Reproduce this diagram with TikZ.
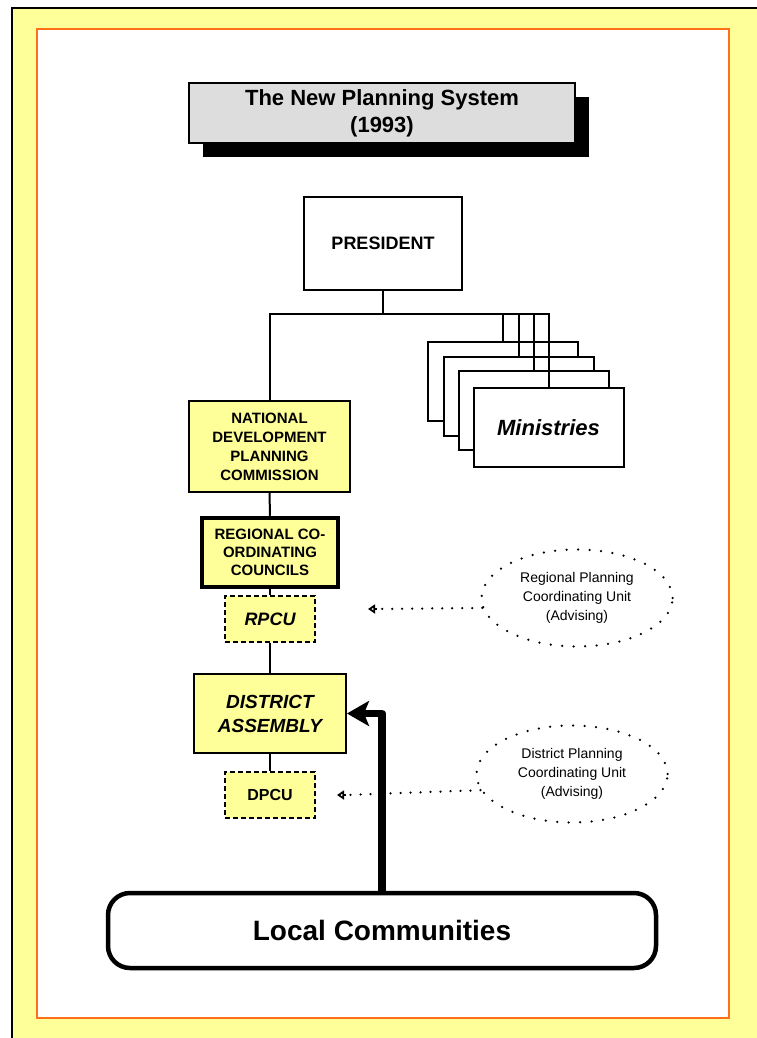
\documentclass[tikz,border=0pt]{standalone}
\usepackage{fontspec}
\setmainfont{Liberation Sans}
\usetikzlibrary{arrows.meta,shapes.geometric,shadows}
\definecolor{pageyellow}{RGB}{255,255,153}
\definecolor{boxyellow}{RGB}{255,255,153}
\definecolor{frameorange}{RGB}{255,112,24}
\definecolor{titlegray}{RGB}{221,221,221}
\begin{document}
\begin{tikzpicture}[x=1pt,y=-1pt,
  box/.style={rectangle,draw=black,line width=2pt,align=center,inner sep=0pt},
  ybox/.style={box,fill=boxyellow},
  wbox/.style={box,fill=white},
  dbox/.style={ybox,dash pattern=on 5pt off 3pt},
  conn/.style={draw=black,line width=2pt},
  dotline/.style={line width=2.5pt,line cap=round,dash pattern=on 0pt off 10pt},
  advise/.style={ellipse,draw=black,line width=2.5pt,line cap=round,
    dash pattern=on 0pt off 11.5pt,inner sep=0pt,align=center,
    minimum width=191pt,minimum height=97pt,
    font=\fontsize{14}{19}\selectfont},
  capsB/.style={font=\fontsize{15}{19}\selectfont\bfseries},
  minis/.style={wbox,minimum width=150pt,minimum height=79pt}
]
\useasboundingbox (0,0) rectangle (757,1038);
\clip (0,0) rectangle (757,1038);

% page frame
\fill[pageyellow] (12,8) rectangle (770,1050);
\draw[line width=2.5pt] (770,8) -- (12,8) -- (12,1050);
\draw[frameorange,line width=2.5pt,fill=white] (37,29) rectangle (729,1018);

% title
\node[box,line width=1.2pt,fill=titlegray,minimum width=386pt,minimum height=60pt,
  font=\fontsize{22}{27}\selectfont\bfseries,
  drop shadow={shadow xshift=14pt,shadow yshift=-14pt,fill=black,opacity=1}]
  (title) at (382,113) {The New Planning System\\(1993)};

% president and ministries
\node[wbox,minimum width=158pt,minimum height=93pt,font=\fontsize{18}{22}\selectfont\bfseries]
  (pres) at (383,243.5) {PRESIDENT};
\node[minis] (m1) at (502.5,381.5) {};
\node[minis] (m2) at (518.5,396.5) {};
\node[minis] (m3) at (534,410.5) {};
\node[minis,font=\fontsize{22}{26}\selectfont\bfseries\itshape] (m4) at (548.5,427.5) {Ministries};

% planning chain
\node[ybox,capsB,minimum width=161pt,minimum height=91pt] (ndpc) at (269.5,446.5)
  {NATIONAL\\DEVELOPMENT\\PLANNING\\COMMISSION};
\node[ybox,capsB,line width=4.5pt,minimum width=136pt,minimum height=69pt,
  font=\fontsize{15}{18}\selectfont\bfseries] (rcc) at (270,552.5)
  {REGIONAL CO-\\ORDINATING\\COUNCILS};
\node[dbox,minimum width=90pt,minimum height=46pt,
  font=\fontsize{18}{22}\selectfont\bfseries\itshape] (rpcu) at (270,619) {RPCU};
\node[ybox,minimum width=152pt,minimum height=79pt,
  font=\fontsize{19}{24}\selectfont\bfseries\itshape] (da) at (270,713.5)
  {DISTRICT\\ASSEMBLY};
\node[dbox,minimum width=90pt,minimum height=46pt,
  font=\fontsize{16}{20}\selectfont\bfseries] (dpcu) at (270,795) {DPCU};

% local communities
\node[draw=black,line width=4.5pt,rounded corners=22pt,fill=white,
  minimum width=548pt,minimum height=75pt,
  font=\fontsize{28}{32}\selectfont\bfseries] (lc) at (382,930.5) {Local Communities};

% advising units
\node[advise] (rell) at (577,598)
  {Regional Planning\\Coordinating Unit\\(Advising)};
\node[advise] (dell) at (572,774)
  {District Planning\\Coordinating Unit\\(Advising)};

% hierarchy connectors
\coordinate (busy) at (0,314);
\draw[conn] (pres.south) -- (pres.south |- busy);
\draw[conn] (ndpc.north) |- (m4.north |- busy) -- (m4.north);
\draw[conn] (m1.north |- busy) -- (m1.north);
\draw[conn] (m2.north |- busy) -- (m2.north);
\draw[conn] (m3.north |- busy) -- (m3.north);
\draw[conn] (ndpc.south) -- (rcc.north);
\draw[conn] (rcc.south) -- (rpcu.north);
\draw[conn] (rpcu.south) -- (da.north);
\draw[conn] (da.south) -- (dpcu.north);

% community input
\draw[line width=7.5pt,line join=round,
  -{Stealth[length=22pt,width=25pt,inset=5pt]}] (lc.north) |- (da.east);

% advisory links
\coordinate (rtip) at (368,609);
\coordinate (dtip) at (337,795);
\draw[dotline] (rell.186) -- ([xshift=9pt]rtip);
\draw[dotline] (dell.190) -- ([xshift=9pt]dtip);
\draw[line width=1.8pt,-{Triangle[open,length=7pt,width=9pt]}] ([xshift=9pt]rtip) -- (rtip);
\draw[line width=1.8pt,-{Triangle[open,length=7pt,width=9pt]}] ([xshift=9pt]dtip) -- (dtip);
\end{tikzpicture}
\end{document}
